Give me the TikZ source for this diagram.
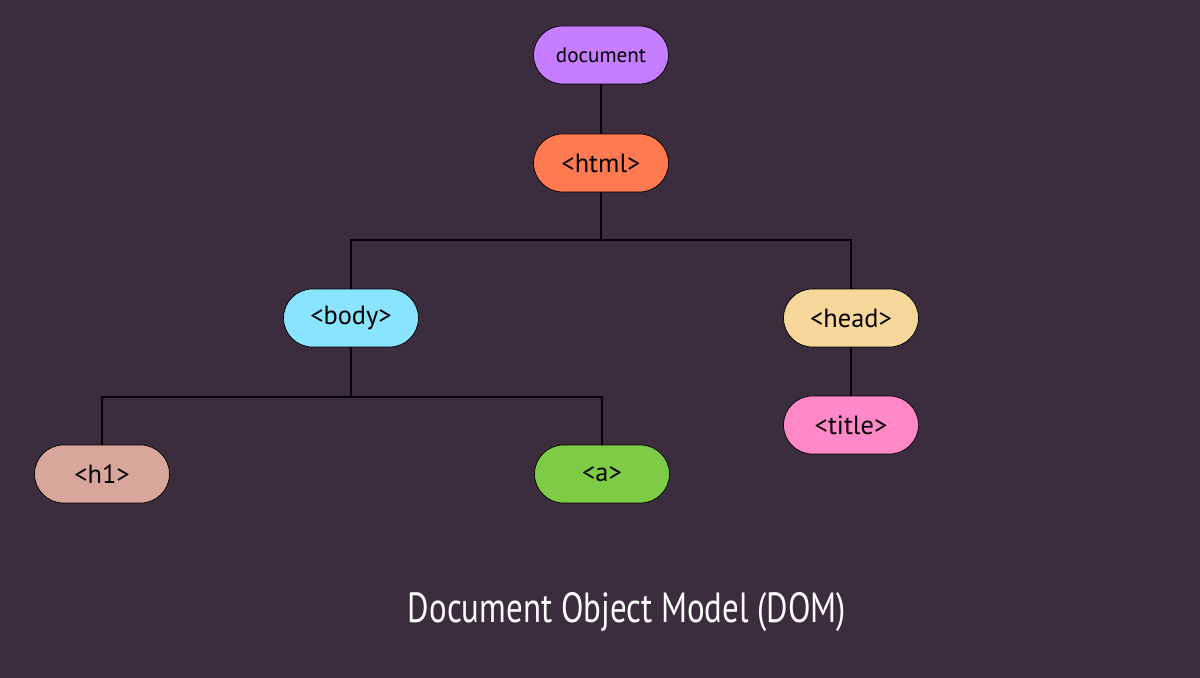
\documentclass[tikz,border=0pt]{standalone}
\usepackage{fontspec}
\setmainfont{PT Sans}
\usetikzlibrary{shapes.misc}
\definecolor{bg}{HTML}{3B2D3E}
\definecolor{cdoc}{HTML}{C77DFF}
\definecolor{chtml}{HTML}{FF7A50}
\definecolor{cbody}{HTML}{88E4FF}
\definecolor{chead}{HTML}{F8D89A}
\definecolor{ctitle}{HTML}{FF88C8}
\definecolor{ch}{HTML}{D9A69C}
\definecolor{ca}{HTML}{7ECC45}
\begin{document}
\begin{tikzpicture}[x=0.02cm,y=-0.02cm,
  pill/.style={rounded rectangle,draw=black,line width=0.4pt,minimum width=2.7cm,minimum height=1.16cm,inner sep=0pt,font=\fontsize{15}{18}\selectfont},
  link/.style={draw=black,line width=1pt}]
\fill[bg] (0,0) rectangle (1200,678);
\useasboundingbox (0,0) rectangle (1200,678);
\node[pill,fill=cdoc,font=\fontsize{12}{14}\selectfont] (doc) at (601,55) {document};
\node[pill,fill=chtml] (html) at (601,163) {<html>};
\node[pill,fill=cbody] (body) at (351,318) {<body>};
\node[pill,fill=chead] (head) at (851,318) {<head>};
\node[pill,fill=ctitle] (title) at (851,425) {<title>};
\node[pill,fill=ch] (h1) at (102,474) {<h1>};
\node[pill,fill=ca] (a) at (602,474) {<a>};
\coordinate (j1) at (601,240);
\coordinate (j2) at (351,397);
\draw[link] (doc) -- (html);
\draw[link] (html) -- (j1);
\draw[link] (body.north) |- (j1) -| (head.north);
\draw[link] (body) -- (j2);
\draw[link] (h1.north) |- (j2) -| (a.north);
\draw[link] (head) -- (title);
\node[text=white,font=\fontsize{24}{28}\selectfont] (cap) at (627,612) {\scalebox{0.78}[1]{Document Object Model (DOM)}};
\end{tikzpicture}
\end{document}
